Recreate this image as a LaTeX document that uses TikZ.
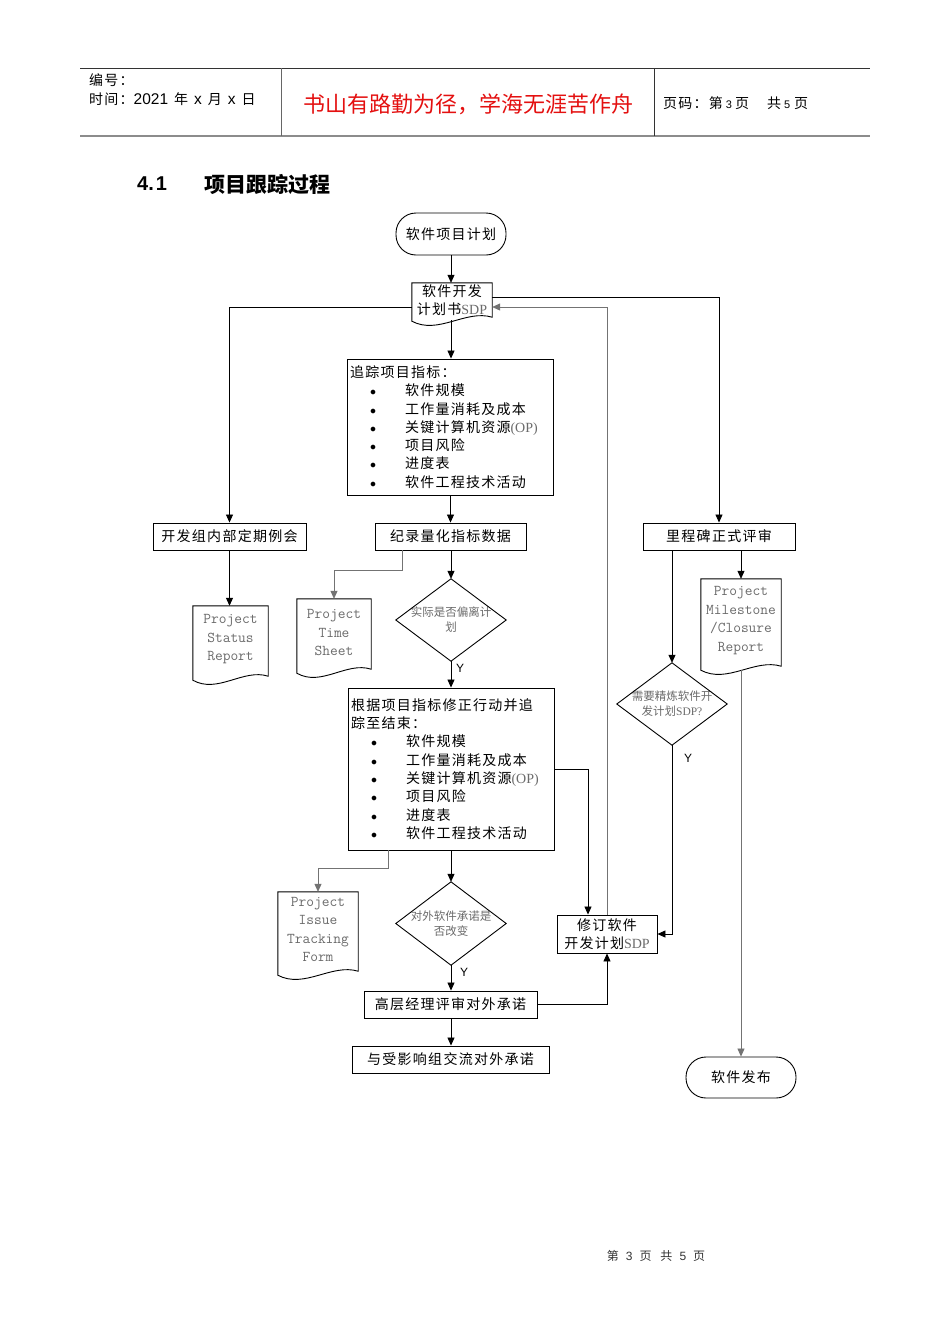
\documentclass[tikz,border=0pt]{standalone}
\usepackage{fontspec}
\setmainfont{Liberation Sans}
\newfontfamily\cjk[LetterSpace=9]{Noto Sans CJK SC}
\newfontfamily\cjkn{Noto Sans CJK SC}
\newfontfamily\monof{Latin Modern Mono}
\newfontfamily\serf{Liberation Serif}
\usetikzlibrary{arrows.meta,calc}
\definecolor{tg}{gray}{0.42}
\definecolor{motto}{RGB}{228,16,16}
\newcommand\bul{\hspace*{20pt}\makebox[35pt][l]{\fontsize{13}{13}\selectfont$\bullet$}}
\newcommand\gsdp[1]{{\serf\color{tg}\fontsize{14}{14}\selectfont #1}}
\newcommand\docsh[2]{\draw[shp] (#1.north west) -- (#1.north east) -- ([yshift={4pt-#2pt}]#1.south east) .. controls ($(#1.south east)!0.33!(#1.south west)+(0pt,{12pt-#2pt})$) and ($(#1.south west)!0.33!(#1.south east)+(0pt,{-14pt-#2pt})$) .. ([yshift=-#2pt]#1.south west) -- cycle;}
\tikzset{
  shp/.style={draw=black, line width=0.9pt},
  proc/.style={shp, rectangle, inner sep=0pt, font=\cjk\fontsize{14}{18.3}\selectfont, align=center},
  term/.style={proc, rounded corners=20pt},
  docn/.style={rectangle, inner sep=0pt, align=center},
  docf/.style={font=\monof\fontsize{15}{18.5}\selectfont, text=tg},
  dia/.style={rectangle, inner sep=0pt, minimum width=110pt, minimum height=82pt, font=\cjkn\fontsize{11.5}{15}\selectfont, text=tg, align=center},
  con/.style={line width=0.8pt, draw=black},
  gcon/.style={line width=0.8pt, draw=black!55},
  arr/.style={-{Triangle[length=8pt,width=7pt]}},
  ylab/.style={font=\fontsize{12}{12}\selectfont, inner sep=0pt},
  hd/.style={anchor=west, inner sep=0pt, font=\cjk\fontsize{14}{14}\selectfont}
}
\begin{document}
\begin{tikzpicture}[x=1pt,y=-1pt]
\useasboundingbox (0,0) rectangle (950,1344);
\fill[white] (0,0) rectangle (950,1344);
% header
\draw[line width=0.8pt, black!80] (80,68) -- (870,68);
\draw[line width=1.8pt, black!45] (80,136) -- (870,136);
\draw[line width=0.8pt, black!60] (281,68) -- (281,136);
\draw[line width=0.8pt, black!80] (654,68) -- (654,136);
\node[hd] (hno) at (89,80) {编号：};
\node[hd] (htime) at (89,99) {时间：{\rmfamily\fontsize{15.5}{15}\selectfont 2021}\hspace{6pt}年\hspace{6pt}{\rmfamily\fontsize{15.5}{15}\selectfont x}\hspace{6pt}月\hspace{6pt}{\rmfamily\fontsize{15.5}{15}\selectfont x}\hspace{6pt}日};
\node[font=\cjkn\fontsize{22}{22}\selectfont, text=motto, inner sep=0pt] (motto) at (468,104) {书山有路勤为径，学海无涯苦作舟};
\node[hd] (hpage) at (663,103) {页码：第\hspace{3pt}{\rmfamily\fontsize{11}{11}\selectfont 3}\hspace{3pt}页\hspace{18pt}共\hspace{3pt}{\rmfamily\fontsize{11}{11}\selectfont 5}\hspace{4pt}页};
% heading
\node[anchor=west, inner sep=0pt, font=\bfseries\fontsize{20}{20}\selectfont] (secnum) at (137,184) {4.\hspace{2pt}1};
\node[anchor=west, inner sep=0pt, font=\cjkn\bfseries\fontsize{21}{21}\selectfont] (sectitle) at (204,184) {项目跟踪过程};
% nodes
\node[term, minimum width=110pt, minimum height=42pt] (start) at (451,234) {软件项目计划};
\node[docn, minimum width=80pt, minimum height=34pt, font=\cjk\fontsize{14}{18}\selectfont] (sdp) at (452,300) {软件开发\\计划书\gsdp{SDP}};
\node[proc, minimum width=206pt, minimum height=136pt, text width=200pt, inner xsep=3pt, align=left] (track) at (450,427) {追踪项目指标：\\
\bul 软件规模\\
\bul 工作量消耗及成本\\
\bul 关键计算机资源\gsdp{(OP)}\\
\bul 项目风险\\
\bul 进度表\\
\bul 软件工程技术活动};
\node[proc, minimum width=153pt, minimum height=27pt] (meet) at (229.5,536.5) {开发组内部定期例会};
\node[proc, minimum width=151pt, minimum height=27pt] (rec) at (450.5,536.5) {纪录量化指标数据};
\node[proc, minimum width=152pt, minimum height=27pt] (mile) at (719,536.5) {里程碑正式评审};
\node[docn, docf, minimum width=75pt, minimum height=67pt] (psr) at (230.5,639.5) {Project\\Status\\Report};
\node[docn, docf, minimum width=74pt, minimum height=67pt] (pts) at (334,632.5) {Project\\Time\\Sheet};
\node[dia] (d1) at (451,620) {实际是否偏离计\\划};
\node[docn, docf, minimum width=80pt, minimum height=83pt] (pmcr) at (741,620.5) {Project\\Milestone\\/Closure\\Report};
\node[dia] (d3) at (672,704) {需要精炼软件开\\发计划{\serf SDP?}};
\node[proc, minimum width=206pt, minimum height=162pt, text width=200pt, inner xsep=3pt, align=left] (fix) at (451,769) {根据项目指标修正行动并追\\踪至结束：\\
\bul 软件规模\\
\bul 工作量消耗及成本\\
\bul 关键计算机资源\gsdp{(OP)}\\
\bul 项目风险\\
\bul 进度表\\
\bul 软件工程技术活动};
\node[docn, docf, minimum width=80pt, minimum height=75pt] (pitf) at (318,929.5) {Project\\Issue\\Tracking\\Form};
\node[dia, minimum height=83pt] (d2) at (451,923.5) {对外软件承诺是\\否改变};
\node[proc, minimum width=100pt, minimum height=38pt] (rev) at (607,934) {修订软件\\开发计划\gsdp{SDP}};
\node[proc, minimum width=173pt, minimum height=27pt] (mgr) at (450.5,1004.5) {高层经理评审对外承诺};
\node[proc, minimum width=197pt, minimum height=27pt] (comm) at (450.5,1059.5) {与受影响组交流对外承诺};
\node[term, minimum width=110pt, minimum height=41pt] (rel) at (741,1077.5) {软件发布};
% shapes
\foreach \n/\e in {sdp/4, psr/7, pts/7, pmcr/8, pitf/8} {\docsh{\n}{\e}}
\foreach \n in {d1,d2,d3} {\draw[shp] (\n.north) -- (\n.east) -- (\n.south) -- (\n.west) -- cycle;}
% connectors
\draw[con,arr] (start.south) -- (start.south |- sdp.north);
\draw[con,arr] ([yshift=-3pt]start.south |- sdp.south) -- (start.south |- track.north);
\draw[con,arr] ([yshift=-7pt]sdp.west) -| (meet.north);
\draw[con,arr] ([yshift=3pt]sdp.east) -| (mile.north);
\draw[gcon,arr] (rev.north) |- ([yshift=-7pt]sdp.east);
\draw[con,arr] (rec.north |- track.south) -- (rec.north);
\draw[con,arr] (meet.south) -- (meet.south |- psr.north);
\draw[gcon,arr] ([xshift=-48pt]rec.south) -- ++(0,20) -| (pts.north);
\draw[con,arr] (d1.north |- rec.south) -- (d1.north);
\draw[con,arr] (d1.south) -- (d1.south |- fix.north);
\draw[con,arr] (d3.north |- mile.south) -- (d3.north);
\draw[con,arr] (pmcr.north |- mile.south) -- (pmcr.north);
\draw[gcon,arr] ([yshift=-8pt]pmcr.south) -- (rel.north);
\draw[con,arr] (fix.east) -| ([xshift=-19pt]rev.north);
\draw[gcon,arr] ([xshift=-63pt]fix.south) -- ++(0,18) -| (pitf.north);
\draw[con,arr] (d2.north |- fix.south) -- (d2.north);
\draw[con,arr] (d2.south) -- (d2.south |- mgr.north);
\draw[con,arr] (d2.south |- mgr.south) -- (d2.south |- comm.north);
\draw[con,arr] (mgr.east) -| (rev.south);
\draw[con,arr] (d3.south) |- (rev.east);
\node[ylab] (y1) at (460,668) {Y};
\node[ylab] (y2) at (464,972) {Y};
\node[ylab] (y3) at (688,758) {Y};
% footer
\node[font=\cjkn\fontsize{12}{12}\selectfont, text=black!80, inner sep=0pt] (foot) at (656,1256) {第\hspace{7pt}{\rmfamily 3}\hspace{7pt}页\hspace{9pt}共\hspace{7pt}{\rmfamily 5}\hspace{7pt}页};
\end{tikzpicture}
\end{document}
